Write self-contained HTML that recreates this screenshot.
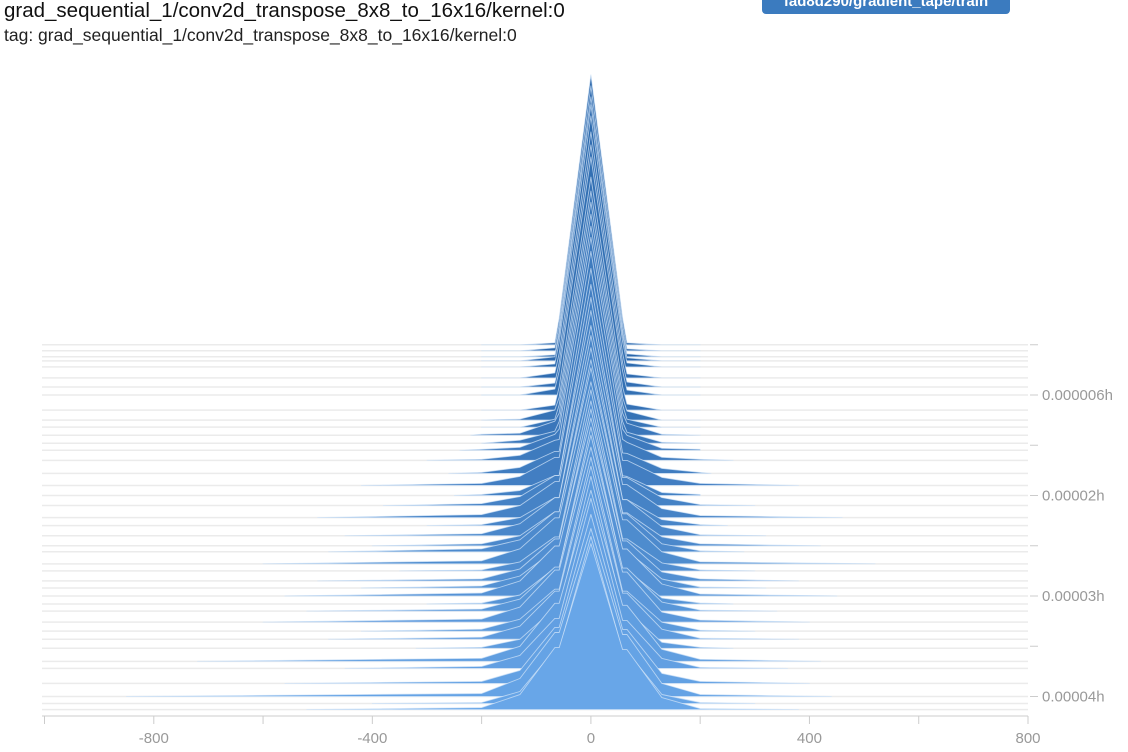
<!DOCTYPE html>
<html><head><meta charset="utf-8"><style>
html,body{margin:0;padding:0;background:#fff;width:1128px;height:752px;overflow:hidden;font-family:"Liberation Sans",sans-serif}
#title{position:absolute;left:4px;top:0;font-size:20.5px;color:#111;line-height:22px;white-space:nowrap}
#tag{position:absolute;left:4px;top:25px;font-size:17.5px;color:#222;white-space:nowrap}
#badge{position:absolute;left:762px;top:-8px;width:248px;height:22px;background:#3b7bbf;border-radius:4px;color:#fff;font-weight:bold;font-size:15px;line-height:20px;text-align:center;overflow:hidden}
svg{position:absolute;left:0;top:0}
</style></head><body>
<div id="title">grad_sequential_1/conv2d_transpose_8x8_to_16x16/kernel:0</div>
<div id="tag">tag: grad_sequential_1/conv2d_transpose_8x8_to_16x16/kernel:0</div>
<div id="badge">fad8d290/gradient_tape/train</div>
<svg id="chart" width="1128" height="752"></svg>
<script>
const times=[5,5.6,6.2,6.6,7.2,8.3,9.2,10,11.5,12.5,13.2,14,14.8,15.5,16.5,17.8,19,20,21,22.2,23,24,25,25.6,26.8,27.5,28.5,29.2,30,30.8,31.5,32.6,33.5,34.3,35.2,36.5,37.2,38.7,40,40.7,41.3];
const peak=[270,265,260,256,251,246,242,238,233,229,225,221,217,213,209,205,201,198,195,192,190,188,186,184,182,181,180,179,178,177,176,175,174,173,172,171,170,169,168,167,166];
const shoulderL=[2,3,2,4,3,5,4,6,5,10,8,14,12,16,20,22,28,20,30,36,28,38,34,40,46,34,42,38,50,36,44,52,42,48,40,58,50,56,64,54,62];
const shoulderR=[2,2,3,3,4,4,5,5,6,9,8,12,11,15,18,20,25,19,28,33,26,36,33,38,44,32,40,37,47,34,43,50,40,46,38,56,48,54,62,52,60];
const midL=[0,0,0,0,0,0,0,0,0,1,0,2,3,3,5,6,9,5,9,12,8,12,10,12,15,9,12,12,15,9,12,15,12,13,9,15,13,13,18,12,15];
const midR=[0,0,0,0,0,0,0,0,0,0,0,1,1,2,3,5,8,3,8,9,6,9,9,8,12,8,9,9,12,6,9,10,9,10,6,12,10,10,13,9,12];
const tailL=[0,0,0,0,0,0,0,0,0,0,0,1,0,1,1,1,2,1,2,3,1,2,2,3,3,1,2,2,3,1,2,3,2,2,1,3,2,2,3,1,2];
const tailR=[0,0,0,0,0,0,0,0,0,0,0,0,0,1,1,1,2,1,1,2,1,1,2,1,2,1,2,1,2,1,1,2,1,1,1,2,1,2,2,1,1];
const extL=[-80,-80,-90,-80,-100,-110,-100,-120,-130,-200,-150,-220,-180,-240,-300,-260,-420,-250,-380,-500,-300,-450,-400,-480,-600,-350,-500,-420,-560,-300,-520,-600,-420,-480,-320,-720,-450,-560,-850,-400,-520];
const extR=[80,80,80,90,90,100,90,110,120,140,120,180,150,200,260,220,380,200,300,460,250,320,420,280,520,300,380,320,450,260,340,400,300,380,260,420,360,400,440,300,380];
const xTicks=[-800,-400,0,400,800];
const xMinor=[-1000,-600,-200,200,600];
const yLabels=["0.000006h","0.00002h","0.00003h","0.00004h"];
const yLabelTimes=[10,20,30,40];
const yMinorTimes=[5,15,25,35];

const NS="http://www.w3.org/2000/svg";
const svg=document.getElementById('chart');
const X0=42,X1=1028,XMIN=-1004.6,XMAX=800;
function xs(v){return X0+(v-XMIN)/(XMAX-XMIN)*(X1-X0);}
function ys(t){return 395+(t-10)/10*100.5;}
function hs(c){return c;}
function mk(tag,attrs){const e=document.createElementNS(NS,tag);for(const k in attrs)e.setAttribute(k,attrs[k]);svg.appendChild(e);return e;}

times.forEach((t,i)=>{
  const l=mk('line',{x1:X0,x2:X1,y1:ys(t),y2:ys(t),stroke:'#ebebeb','stroke-width':1.5});
  
  
});
function lerp(a,b,f){return Math.round(a+(b-a)*f);}
const n=times.length;
times.forEach((t,i)=>{
  const b=ys(t);
  const f=i/(n-1);
  const col='rgb('+lerp(40,104,f)+','+lerp(100,166,f)+','+lerp(168,232,f)+')';
  const pts=[[extL[i],0],[-200,tailL[i]],[-130,midL[i]],[-66,shoulderL[i]],[-58,Math.max(shoulderL[i],peak[i]*0.1)],[0,peak[i]],[58,Math.max(shoulderR[i],peak[i]*0.1)],[66,shoulderR[i]],[130,midR[i]],[200,tailR[i]],[extR[i],0]];
  const d=pts.map(p=>xs(p[0]).toFixed(1)+','+(b-hs(p[1])).toFixed(1)).join(' ');
  const p=mk('polygon',{points:d,fill:col,stroke:'rgba(210,228,248,0.75)','stroke-width':0.9,'stroke-linejoin':'round'});
  
  
});
const ax=mk('line',{x1:X0,x2:X1,y1:716,y2:716,stroke:'#ccc'});


xMinor.concat(xTicks).forEach(v=>{mk('line',{x1:xs(v),x2:xs(v),y1:716,y2:724,stroke:'#ccc'});});
xTicks.forEach(v=>{
  const tx=mk('text',{x:xs(v),y:743,'text-anchor':'middle','font-size':15,fill:'#999','font-family':'Liberation Sans, sans-serif'});
  tx.textContent=v;
  
  
});
yMinorTimes.concat(yLabelTimes).forEach(t=>{mk('line',{x1:1030,x2:1038,y1:ys(t),y2:ys(t),stroke:'#ccc'});});
yLabels.forEach((s,i)=>{
  const tx=mk('text',{x:1042,y:ys(yLabelTimes[i])+5,'font-size':15,fill:'#999','font-family':'Liberation Sans, sans-serif'});
  tx.textContent=s;
  
  
});
</script>
</body></html>
